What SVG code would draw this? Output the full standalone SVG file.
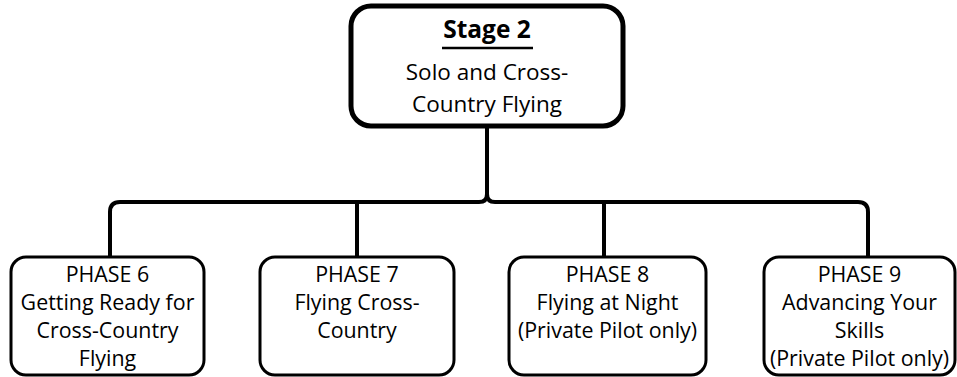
<svg xmlns="http://www.w3.org/2000/svg" width="957" height="377" viewBox="0 0 957 377">
<style>
.box{fill:#ffffff;stroke:#000000;stroke-width:3}
.top{fill:#ffffff;stroke:#000000;stroke-width:5}
.conn{fill:none;stroke:#000000;stroke-width:4}
text{font-family:"Open Sans","Liberation Sans",sans-serif;font-size:21.4px;fill:#000000;text-anchor:middle}
.big{font-size:22.5px}
.title{font-size:24.5px;font-weight:bold}
</style>
<rect x="0" y="0" width="957" height="377" fill="#ffffff"/>
<g id="connectors">
<path class="conn" d="M110,257 V212 Q110,202 120,202 H479 Q487,202 487,194 V126"/>
<path class="conn" d="M487,194 Q487,202 495,202 H858 Q868,202 868,212 V257"/>
<line class="conn" x1="357" y1="202" x2="357" y2="257"/>
<line class="conn" x1="604" y1="202" x2="604" y2="257"/>
</g>
<g id="stage2">
<rect class="top" x="351" y="6" width="272" height="120" rx="20" ry="20"/>
<text class="title" x="487" y="38">Stage 2</text>
<line x1="442" y1="48" x2="533" y2="48" stroke="#000" stroke-width="2.5"/>
<text class="big" x="487" y="80">Solo and Cross-</text>
<text class="big" x="487" y="112">Country Flying</text>
</g>
<g id="phase6">
<rect class="box" x="11" y="257" width="193" height="118" rx="15" ry="15"/>
<text x="107.5" y="282">PHASE 6</text>
<text x="107.5" y="310">Getting Ready for</text>
<text x="107.5" y="338">Cross-Country</text>
<text x="107.5" y="366">Flying</text>
</g>
<g id="phase7">
<rect class="box" x="260" y="257" width="194" height="118" rx="15" ry="15"/>
<text x="357" y="282">PHASE 7</text>
<text x="357" y="310">Flying Cross-</text>
<text x="357" y="338">Country</text>
</g>
<g id="phase8">
<rect class="box" x="509" y="257" width="197" height="118" rx="15" ry="15"/>
<text x="607.5" y="282">PHASE 8</text>
<text x="607.5" y="310">Flying at Night</text>
<text x="607.5" y="338">(Private Pilot only)</text>
</g>
<g id="phase9">
<rect class="box" x="764" y="257" width="191" height="118" rx="15" ry="15"/>
<text x="859.5" y="282">PHASE 9</text>
<text x="859.5" y="310">Advancing Your</text>
<text x="859.5" y="338">Skills</text>
<text x="859.5" y="366">(Private Pilot only)</text>
</g>
</svg>
